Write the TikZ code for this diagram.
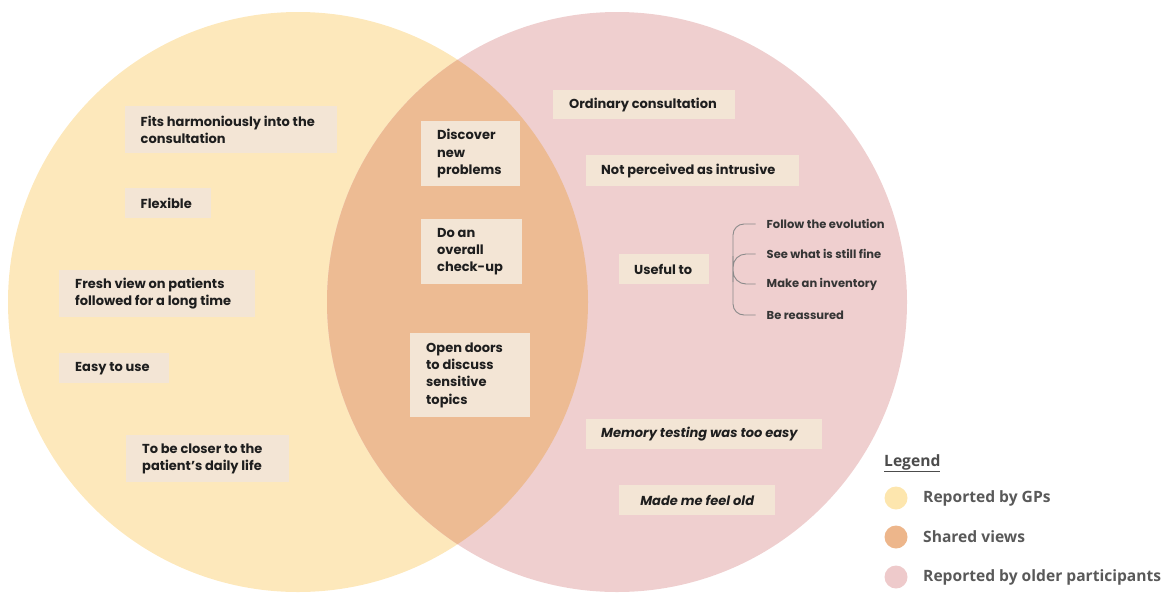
\documentclass[tikz,border=0pt]{standalone}
\usepackage{fontspec}
\setmainfont{Poppins}
\newfontfamily\legfont{Open Sans}
\usetikzlibrary{calc}

\definecolor{gpfill}{HTML}{FDE8BB}
\definecolor{oldfill}{HTML}{EFCFCF}
\definecolor{sharedfill}{HTML}{EDBB93}
\definecolor{boxfill}{HTML}{F3E5D5}
\definecolor{legyellow}{HTML}{FDE6AE}
\definecolor{legorange}{HTML}{EDB68B}
\definecolor{legpink}{HTML}{EECACB}
\definecolor{legtext}{HTML}{595959}
\definecolor{bracketgray}{HTML}{8A8A8A}
\definecolor{itemtext}{HTML}{1E1E1E}

\tikzset{
  themebox/.style={fill=boxfill, draw=none, inner sep=0pt, anchor=north west},
  themetext/.style={anchor=west, inner sep=0pt, align=left, text=itemtext,
    font=\bfseries\fontsize{13}{17.3}\selectfont},
  subtext/.style={anchor=west, inner sep=0pt, text=itemtext!90!white,
    font=\bfseries\fontsize{11.5}{14}\selectfont},
  bracket/.style={draw=bracketgray, line width=0.9pt},
  legdot/.style={circle, minimum size=23pt, inner sep=0pt, draw=none},
  legtxt/.style={anchor=west, inner sep=0pt, text=legtext,
    font=\legfont\bfseries\fontsize{15.6}{18}\selectfont},
}

\begin{document}
\begin{tikzpicture}[x=1pt, y=-1pt]
\useasboundingbox (0,0) rectangle (1167,592);

% the two sets and their overlap
\fill[gpfill] (298,302) circle (290);
\fill[oldfill] (617,302) circle (290);
\begin{scope}
  \clip (298,302) circle (290);
  \fill[sharedfill] (617,302) circle (290);
\end{scope}

% themes reported by GPs
\node[themebox, minimum width=212pt, minimum height=47pt] (fits) at (124.5,106) {};
\node[themetext] (fits-t) at ([xshift=16pt]fits.west) {Fits harmoniously into the\\consultation};
\node[themebox, minimum width=86pt, minimum height=30pt] (flex) at (124.5,188) {};
\node[themetext] (flex-t) at ([xshift=16pt]flex.west) {Flexible};
\node[themebox, minimum width=196pt, minimum height=47pt] (fresh) at (59,270) {};
\node[themetext] (fresh-t) at ([xshift=16pt]fresh.west) {Fresh view on patients\\followed for a long time};
\node[themebox, minimum width=110pt, minimum height=30pt] (easy) at (59,353) {};
\node[themetext] (easy-t) at ([xshift=16pt]easy.west) {Easy to use};
\node[themebox, minimum width=163pt, minimum height=47pt] (closer) at (126,435) {};
\node[themetext] (closer-t) at ([xshift=16pt]closer.west) {To be closer to the\\patient's daily life};

% shared themes
\node[themebox, minimum width=99pt, minimum height=65pt] (discover) at (421,121) {};
\node[themetext] (discover-t) at ([xshift=16pt]discover.west) {Discover\\new\\problems};
\node[themebox, minimum width=101pt, minimum height=65pt] (checkup) at (421,219) {};
\node[themetext] (checkup-t) at ([xshift=16pt]checkup.west) {Do an\\overall\\check-up};
\node[themebox, minimum width=120pt, minimum height=84pt] (doors) at (410,333) {};
\node[themetext] (doors-t) at ([xshift=16pt]doors.west) {Open doors\\to discuss\\sensitive\\topics};

% themes reported by older participants
\node[themebox, minimum width=182pt, minimum height=29pt] (ordinary) at (553,90) {};
\node[themetext] (ordinary-t) at ([xshift=16pt]ordinary.west) {Ordinary consultation};
\node[themebox, minimum width=213pt, minimum height=31pt] (intrusive) at (586,155) {};
\node[themetext] (intrusive-t) at ([xshift=15pt]intrusive.west) {Not perceived as intrusive};
\node[themebox, minimum width=90pt, minimum height=30pt] (useful) at (619,254) {};
\node[themetext] (useful-t) at ([xshift=15pt]useful.west) {Useful to};
\node[themebox, minimum width=236pt, minimum height=30pt] (memory) at (586,419) {};
\node[themetext, font=\bfseries\itshape\fontsize{13}{17.3}\selectfont] (memory-t) at ([xshift=15pt]memory.west) {Memory testing was too easy};
\node[themebox, minimum width=156pt, minimum height=30pt] (feelold) at (619,485) {};
\node[themetext, anchor=center, font=\bfseries\itshape\fontsize{13}{17.3}\selectfont] (feelold-t) at (feelold.center) {Made me feel old};

% what the check is useful for
\node[subtext] (evol) at (766.5,224) {Follow the evolution};
\node[subtext] (fine) at (766.5,254) {See what is still fine};
\node[subtext] (inv) at (766.5,284) {Make an inventory};
\node[subtext] (reass) at (766.5,315) {Be reassured};
\coordinate (trunk) at (733,269);
\draw[bracket, rounded corners=11pt] ([xshift=-11pt]evol.west) -| (trunk) |- ([xshift=-11pt]reass.west);
\draw[bracket, rounded corners=13pt] ([xshift=-11pt]fine.west) -| (trunk) |- ([xshift=-11pt]inv.west);

% legend
\node[anchor=west, inner sep=0pt, text=legtext!85!black,
  font=\legfont\bfseries\fontsize{15.6}{18}\selectfont] (legtitle) at (884,463) {\underline{Legend}};
\node[legdot, fill=legyellow] (dot-gp) at (896,498) {};
\node[legtxt] (lab-gp) at (923,498) {Reported by GPs};
\node[legdot, fill=legorange] (dot-shared) at (896,537) {};
\node[legtxt] (lab-shared) at (923,537) {Shared views};
\node[legdot, fill=legpink] (dot-old) at (896,577) {};
\node[legtxt] (lab-old) at (923,577) {Reported by older participants};
\end{tikzpicture}
\end{document}
